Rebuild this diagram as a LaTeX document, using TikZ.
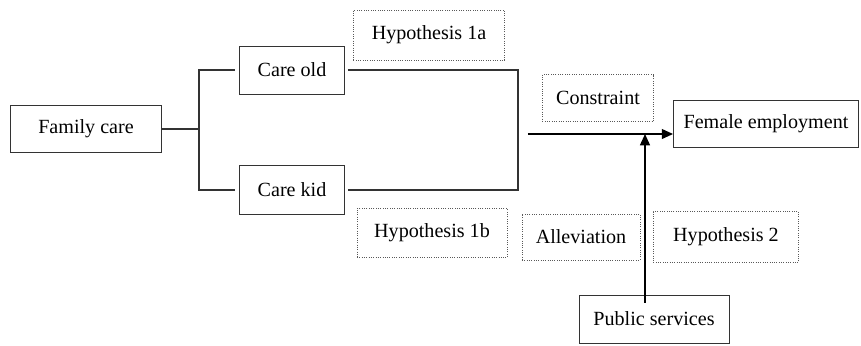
\documentclass[tikz,border=0pt]{standalone}
\usepackage{fontspec}
\setmainfont{Liberation Serif}[Ligatures=TeX]
\usetikzlibrary{arrows.meta}
\tikzset{
box/.style={rectangle, draw=black!80, line width=0.65pt, inner sep=0pt, font=\rmfamily\fontsize{14.3}{16}\selectfont},
hyp/.style={rectangle, draw=black!65, densely dotted, line width=0.65pt, inner sep=0pt, font=\rmfamily\fontsize{14.3}{16}\selectfont},
link/.style={draw=black!80, line width=0.75pt},
arrow/.style={line width=1.2pt, ->, >={Triangle[length=8pt,width=7pt]}},
}

\begin{document}
\begin{tikzpicture}[x=0.025cm, y=-0.025cm]
\useasboundingbox (0,0) rectangle (861,345);

\node[box, minimum width=3.775cm, minimum height=1.175cm](family) at (86,129){Family care};
\node[box, minimum width=2.625cm, minimum height=1.2cm](care_old) at (292,70){Care old};
\node[box, minimum width=2.625cm, minimum height=1.225cm](care_kid) at (292,190){Care kid};
\node[box, minimum width=4.625cm, minimum height=1.175cm](female) at (766,124){Female employment};
\node[box, minimum width=3.75cm, minimum height=1.2cm](public) at (654,319){Public services};

\node[hyp, minimum width=3.775cm, minimum height=1.25cm](hyp_1a) at (429,35){Hypothesis 1a};
\node[hyp, minimum width=3.75cm, minimum height=1.225cm](hyp_1b) at (432,233){Hypothesis 1b};
\node[hyp, minimum width=2.775cm, minimum height=1.175cm](constraint) at (598,98){Constraint};
\node[hyp, minimum width=2.95cm, minimum height=1.15cm](alleviation) at (581,237){Alleviation};
\node[hyp, minimum width=3.625cm, minimum height=1.275cm](hyp_2) at (726,237){Hypothesis 2};

\coordinate (fork) at (199,129);
\coordinate (join) at (518,134);
\coordinate (meet) at (645,134);

\draw [link] (family.east) -- (fork);
\draw [link] ([xshift=-3]care_old.west) -| (fork) |- ([xshift=-3]care_kid.west);
\draw [link] ([xshift=2]care_old.east) -| (join) |- ([xshift=2]care_kid.east);

\draw [arrow] ([xshift=7]join) -- (female.west |- join);
\draw [arrow] ([yshift=-6]public.north -| meet) -- (meet);
\end{tikzpicture}
\end{document}
